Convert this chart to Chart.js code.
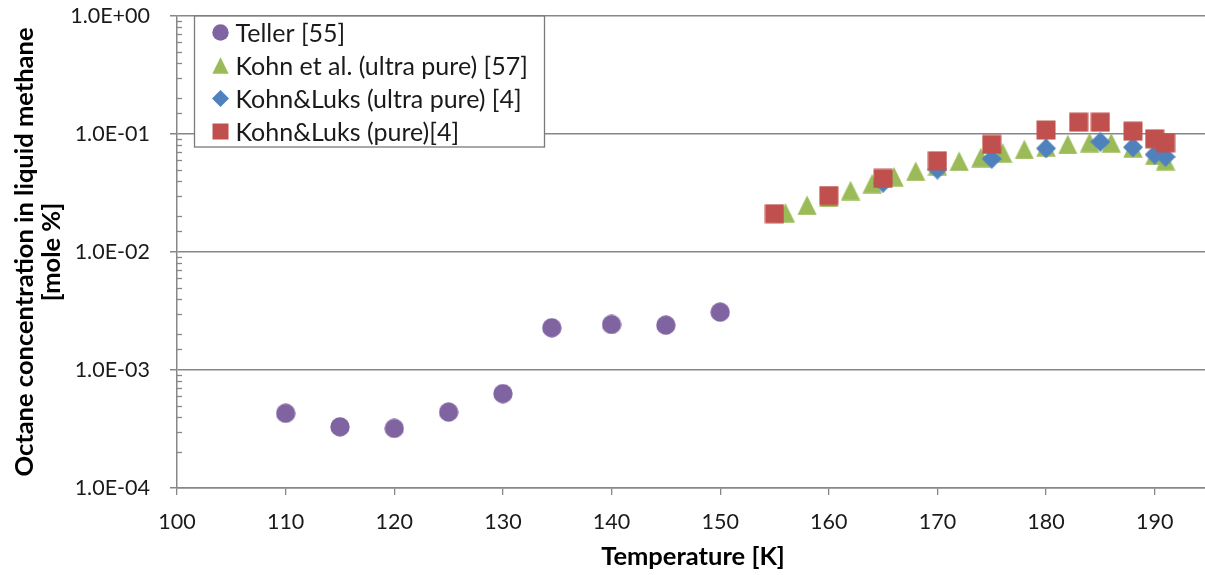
<!DOCTYPE html>
<html>
<head>
<meta charset="utf-8">
<script src="https://cdn.jsdelivr.net/npm/chart.js@4.4.1/dist/chart.umd.min.js"></script>
<style>
  html, body { margin: 0; padding: 0; background: #fff; overflow: hidden; }
  canvas { display: block; }
</style>
</head>
<body>
<canvas id="c" width="1209" height="575"></canvas>
<script>
// ---- data ----
const tellerT = [110, 115, 120, 125, 130, 134.5, 140, 145, 150];
const tellerC = [4.3e-4, 3.3e-4, 3.2e-4, 4.4e-4, 6.3e-4, 2.28e-3, 2.43e-3, 2.4e-3, 3.09e-3];

const kohnUltraT = [156, 158, 160, 162, 164, 166, 168, 170, 172, 174, 176, 178, 180, 182, 184, 186, 188, 190, 191];
const kohnUltraC = [0.0215, 0.0249, 0.029, 0.0332, 0.038, 0.0434, 0.0484, 0.054, 0.0588, 0.0632, 0.0693, 0.0739, 0.078, 0.0815, 0.0846, 0.0842, 0.0764, 0.066, 0.0596];

const klUltraT = [165, 170, 175, 180, 185, 188, 190, 191];
const klUltraC = [0.0386, 0.050, 0.0616, 0.0755, 0.0859, 0.0773, 0.067, 0.064];

const klPureT = [155, 160, 165, 170, 175, 180, 183, 185, 188, 190, 191];
const klPureC = [0.0211, 0.0301, 0.042, 0.0593, 0.0815, 0.108, 0.126, 0.126, 0.1057, 0.091, 0.0842];

const seriesLabels = ['Teller [55]', 'Kohn et al. (ultra pure) [57]', 'Kohn&Luks (ultra pure) [4]', 'Kohn&Luks (pure)[4]'];
const xTitle = 'Temperature [K]';
const yTitle = ['Octane concentration in liquid methane', '[mole %]'];
const xMin = 100, xMax = 195, xStep = 10;
const yMin = 1e-4, yMax = 1;

// ---- styling ----
const colors = ['#8064A2', '#9BBB59', '#4F81BD', '#C0504D'];
const shapes = ['circle', 'triangle', 'diamond', 'square'];
const FONT = 'Lato, "Open Sans", sans-serif';

function makeMarker(shape, color, size) {
  const c = document.createElement('canvas');
  c.width = size; c.height = size;
  const g = c.getContext('2d');
  g.fillStyle = color;
  const s = size;
  g.beginPath();
  if (shape === 'circle') {
    g.arc(s / 2, s / 2, s / 2 - 0.3, 0, Math.PI * 2);
  } else if (shape === 'triangle') {
    g.moveTo(s / 2, 0.3); g.lineTo(s - 0.3, s - 0.3); g.lineTo(0.3, s - 0.3); g.closePath();
  } else if (shape === 'diamond') {
    g.moveTo(s / 2, 0); g.lineTo(s, s / 2); g.lineTo(s / 2, s); g.lineTo(0, s / 2); g.closePath();
  } else {
    g.rect(0.5, 0.5, s - 1, s - 1);
  }
  g.fill();
  return c;
}
const markerSizes = [20, 20, 20, 20];
const markers = shapes.map((sh, i) => makeMarker(sh, colors[i], markerSizes[i]));
const legendMarkers = shapes.map((sh, i) => makeMarker(sh, colors[i], 17));

function toXY(xs, ys) { return xs.map((x, i) => ({ x: x, y: ys[i] })); }
function isPow10(v) { const l = Math.log10(v); return Math.abs(l - Math.round(l)) < 1e-9; }
function fmtExp(v) {
  const e = Math.round(Math.log10(v));
  const sign = e < 0 ? '-' : '+';
  const a = Math.abs(e);
  return '1.0E' + sign + (a < 10 ? '0' + a : String(a));
}

const GRID = '#878787';

const legendPlugin = {
  id: 'boxLegend',
  afterDraw(chart) {
    const { ctx, chartArea } = chart;
    const x0 = chartArea.left + 17.5, y0 = chartArea.top, w = 350, h = 131;
    ctx.save();
    ctx.fillStyle = '#fff';
    ctx.fillRect(x0, y0, w, h);
    ctx.strokeStyle = '#7a7a7a';
    ctx.lineWidth = 1.3;
    ctx.strokeRect(x0, y0, w, h);
    ctx.font = '25px ' + FONT;
    ctx.textBaseline = 'middle';
    ctx.fillStyle = '#1a1a1a';
    seriesLabels.forEach((lab, i) => {
      const cy = y0 + 16.5 + i * 33;
      const m = legendMarkers[i];
      ctx.drawImage(m, x0 + 26 - m.width / 2, cy - m.height / 2);
      ctx.fillText(lab, x0 + 41, cy + 1);
    });
    ctx.restore();
  }
};

const minorTickPlugin = {
  id: 'minorTicks',
  afterDatasetsDraw(chart) {
    const ys = chart.scales.y;
    const { ctx, chartArea } = chart;
    ctx.save();
    ctx.strokeStyle = GRID;
    ctx.lineWidth = 1.3;
    ys.ticks.forEach(t => {
      if (!isPow10(t.value)) {
        const py = Math.round(ys.getPixelForValue(t.value)) + 0.5;
        ctx.beginPath();
        ctx.moveTo(chartArea.left, py);
        ctx.lineTo(chartArea.left + 5, py);
        ctx.stroke();
      }
    });
    ctx.restore();
  }
};

function build() {
  Chart.defaults.font.family = FONT;
  Chart.defaults.color = '#1a1a1a';
  const datasets = [
    { label: seriesLabels[0], data: toXY(tellerT, tellerC), order: 4 },
    { label: seriesLabels[1], data: toXY(kohnUltraT, kohnUltraC), order: 3 },
    { label: seriesLabels[2], data: toXY(klUltraT, klUltraC), order: 2 },
    { label: seriesLabels[3], data: toXY(klPureT, klPureC), order: 1 }
  ].map((d, i) => Object.assign(d, {
    pointStyle: markers[i],
    pointRadius: 10,
    pointHoverRadius: 10,
    backgroundColor: colors[i],
    borderColor: colors[i],
    showLine: false
  }));

  new Chart(document.getElementById('c'), {
    type: 'scatter',
    data: { datasets },
    options: {
      responsive: false,
      animation: false,
      layout: { autoPadding: false, padding: { top: 16, left: 0, right: 0, bottom: 0 } },
      plugins: { legend: { display: false }, tooltip: { enabled: false } },
      scales: {
        x: {
          type: 'linear',
          min: xMin, max: xMax,
          ticks: { stepSize: xStep, includeBounds: false, padding: 14, font: { size: 21.5 }, color: '#1a1a1a', maxRotation: 0 },
          grid: { drawOnChartArea: false, drawTicks: true, tickLength: 7, tickColor: GRID, lineWidth: 1.3 },
          border: { color: GRID, width: 1.5 },
          title: { display: true, text: xTitle, font: { size: 25.5, weight: 'bold', lineHeight: 1.06 }, color: '#000', padding: { top: 0, bottom: 4.5 } },
          afterFit(s) { s.height = 575 - 16 - 472; s.paddingLeft = 0; s.paddingRight = 0; }
        },
        y: {
          type: 'logarithmic',
          min: yMin, max: yMax,
          ticks: {
            autoSkip: false,
            padding: 20,
            font: { size: 21.5 },
            color: '#1a1a1a',
            callback: (v) => isPow10(v) ? fmtExp(v) : ''
          },
          grid: {
            drawTicks: true,
            tickLength: 7,
            color: (c) => (c.tick && isPow10(c.tick.value)) ? GRID : 'rgba(0,0,0,0)',
            tickColor: (c) => (c.tick && isPow10(c.tick.value)) ? GRID : 'rgba(0,0,0,0)',
            lineWidth: 1.5
          },
          border: { color: GRID, width: 1.5 },
          title: { display: true, text: yTitle, font: { size: 25.5, weight: 'bold', lineHeight: 1.06 }, color: '#000', padding: { top: 11.5, bottom: 0 } },
          afterFit(s) { s.width = 177; s.paddingTop = 0; s.paddingBottom = 0; }
        }
      }
    },
    plugins: [minorTickPlugin, legendPlugin]
  });
}

if (document.fonts && document.fonts.load) {
  Promise.all([document.fonts.load('20px Lato'), document.fonts.load('bold 20px Lato')])
    .then(build, build);
} else {
  build();
}
</script>
</body>
</html>
